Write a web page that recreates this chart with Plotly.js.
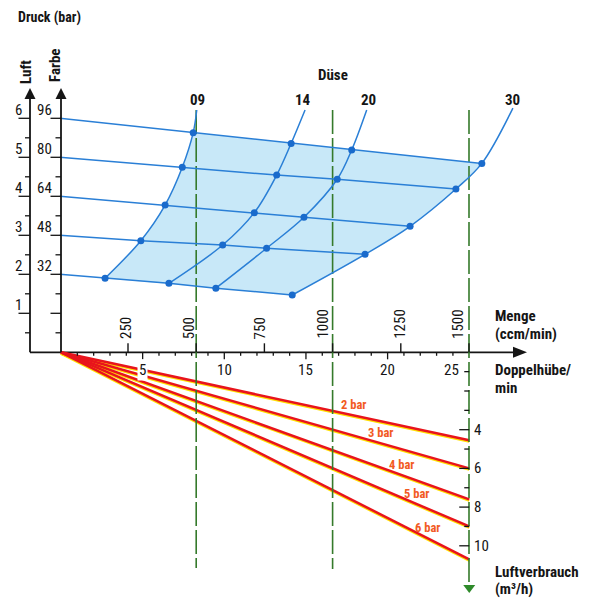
<!DOCTYPE html>
<html><head><meta charset="utf-8">
<script src="https://cdn.plot.ly/plotly-3.0.1.min.js"></script>
<style>html,body{margin:0;padding:0;background:#fff}#chart{width:593px;height:598px}</style>
</head><body><div id="chart"></div>
<script>
// ================= DATA =================
const farbeDruck = [32, 48, 64, 80, 96];          // Farbe-Druck (bar) scale labels
const luftDruck  = [1, 2, 3, 4, 5, 6];            // Luft-Druck (bar) scale labels
const FARBE_PER_LUFT = 16;                        // 6 bar Luft <-> 96 bar Farbe
const duesen = ['09', '14', '20', '30'];          // nozzle sizes
// nozzle points: Menge (ccm/min) and height on the Farbe-Druck scale (bar),
// one value per Farbe-Druck line (32, 48, 64, 80, 96)
const menge09 = [166, 297, 386, 449, 489];
const lage09  = [30.4, 45.8, 60.4, 75.9, 90.1];
const menge14 = [400, 597, 713, 795, 848];
const lage14  = [28.3, 44.0, 57.3, 72.7, 85.7];
const menge20 = [572, 758, 895, 1017, 1070];
const lage20  = [26.3, 42.7, 55.4, 71.0, 83.0];
const menge30 = [852, 1119, 1284, 1452, 1547];
const lage30  = [23.5, 40.2, 51.7, 67.0, 77.5];
// upper ends of the nozzle curves
const endeMenge = [502, 899, 1125, 1661];
const endeLage  = [99.4, 99.4, 99.4, 100.2];

const mengeTicks = [250, 500, 750, 1000, 1250, 1500];   // ccm/min
const hubTicks   = [5, 10, 15, 20, 25];                  // Doppelhuebe/min
const hubMax     = 25;
const markierMenge = [500, 1000, 1500];                  // green guide lines
const luftBar    = ['2 bar', '3 bar', '4 bar', '5 bar', '6 bar'];
const verbrauchBeiMax = [4.55, 6.0, 7.6, 9.0, 10.7];     // m3/h at 25 DH/min
const verbrauchTicks  = [4, 6, 8, 10];                   // labelled m3/h ticks
const verbrauchMaxTick = 10;

// ================= LAYOUT GEOMETRY =================
const W = 593, H = 598;
const OX = 61, OY = 352.3;          // origin in px
const PX_HUB = 16.33;               // px per DH/min
const PX_FARBE = 2.4375;            // px per bar (Farbe)
const PX_LV = 19.35;                // px per m3/h
const MX0 = 59.8, PX_MENGE = 0.2728;// Menge scale
const SHADOW = 1.3;
const LUFT_X = 30;
const AXIS_TOP = 98, ARROW_TIP = 88;
const XAXIS_END = 514, XARROW_TIP = 527;
const SMOOTH = 1;

const FONT = "'Liberation Sans Narrow','Arial Narrow','Roboto Condensed','DejaVu Sans Condensed',sans-serif";
const BLUE = '#2a7fd6', DOT = '#1a6bcc', FILL = '#c8e8f8', GREEN = '#357a2b',
      RED = '#e8141c', YEL = '#ffe000', LABRED = '#f25a22', INK = '#151515';

const px = x => x / W, py = y => 1 - y / H;
const pp = p => px(p[0]).toFixed(5) + ',' + py(p[1]).toFixed(5);

// ================= TRACES =================
const traces = [];
const base = {mode: 'lines', hoverinfo: 'skip', showlegend: false};

// horizontal axis line (main subplot)
traces.push(Object.assign({}, base, {x: [(LUFT_X - OX) / PX_HUB, (XAXIS_END - OX) / PX_HUB], y: [0, 0],
  xaxis: 'x', yaxis: 'y', line: {color: INK, width: 1.8}}));

// air consumption lines: yellow edge (shifted axis y2) under red (true axis y3)
verbrauchBeiMax.forEach(v => traces.push(Object.assign({}, base, {
  x: [0, hubMax], y: [0, v], xaxis: 'x', yaxis: 'y2', line: {color: YEL, width: 2.3}})));
verbrauchBeiMax.forEach(v => traces.push(Object.assign({}, base, {
  x: [0, hubMax], y: [0, v], xaxis: 'x', yaxis: 'y3', line: {color: RED, width: 2.5}})));

// green guide lines
const guideTop = (OY - 110) / PX_FARBE;
const guideBottomPx = [568, 569, 586];
markierMenge.forEach((m, i) => traces.push(Object.assign({}, base, {
  x: [m, m], y: [guideTop, -(guideBottomPx[i] - OY) / PX_FARBE], xaxis: 'x2', yaxis: 'y',
  line: {color: GREEN, width: 1.6, dash: '24px,4px'}})));

// Farbe-Druck lines
const cols = [[menge09, lage09], [menge14, lage14], [menge20, lage20], [menge30, lage30]];
farbeDruck.forEach((p, i) => traces.push(Object.assign({}, base, {
  x: [0].concat(cols.map(c => c[0][i])), y: [p].concat(cols.map(c => c[1][i])),
  xaxis: 'x2', yaxis: 'y', line: {color: BLUE, width: 1.5}})));

// nozzle curves
cols.forEach((c, j) => traces.push(Object.assign({}, base, {
  x: c[0].concat([endeMenge[j]]), y: c[1].concat([endeLage[j]]),
  xaxis: 'x2', yaxis: 'y', line: {color: BLUE, width: 1.5, shape: 'spline', smoothing: SMOOTH}})));

// nozzle points
traces.push({mode: 'markers', hoverinfo: 'skip', showlegend: false, xaxis: 'x2', yaxis: 'y',
  x: [].concat(...cols.map(c => c[0])), y: [].concat(...cols.map(c => c[1])),
  marker: {color: DOT, size: 7}});

// ================= SHAPES =================
const shapes = [];

// shaded field: same spline construction Plotly uses for the nozzle curves
function tangent(p0, p1, p2, s) {
  const d1x = p0[0] - p1[0], d1y = p0[1] - p1[1], d2x = p2[0] - p1[0], d2y = p2[1] - p1[1];
  const d1a = Math.pow(d1x * d1x + d1y * d1y, 0.25), d2a = Math.pow(d2x * d2x + d2y * d2y, 0.25);
  const nx = (d2a * d2a * d1x - d1a * d1a * d2x) * s, ny = (d2a * d2a * d1y - d1a * d1a * d2y) * s;
  const den1 = 3 * d2a * (d1a + d2a), den2 = 3 * d1a * (d1a + d2a);
  return [[p1[0] + (den1 && nx / den1), p1[1] + (den1 && ny / den1)],
          [p1[0] - (den2 && nx / den2), p1[1] - (den2 && ny / den2)]];
}
function splineSegs(pts, s) {
  const t = [];
  for (let i = 1; i < pts.length - 1; i++) t.push(tangent(pts[i - 1], pts[i], pts[i + 1], s));
  const segs = [{from: pts[0], ctrl: [t[0][0]], to: pts[1]}];
  for (let i = 2; i < pts.length - 1; i++) segs.push({from: pts[i - 1], ctrl: [t[i - 2][1], t[i - 1][0]], to: pts[i]});
  segs.push({from: pts[pts.length - 2], ctrl: [t[pts.length - 3][1]], to: pts[pts.length - 1]});
  return segs;
}
const toPx = (m, f) => [MX0 + m * PX_MENGE, OY - f * PX_FARBE];
const curvePx = j => cols[j][0].concat([endeMenge[j]]).map((m, i) => toPx(m, cols[j][1].concat([endeLage[j]])[i]));
const nRows = farbeDruck.length;
const segA = splineSegs(curvePx(0), SMOOTH).slice(0, nRows - 1);
const segB = splineSegs(curvePx(3), SMOOTH).slice(0, nRows - 1);
let fillPath = 'M' + pp(segA[0].from);
segA.forEach(s => { fillPath += (s.ctrl.length === 1 ? 'Q' : 'C') + s.ctrl.map(pp).join(' ') + ' ' + pp(s.to); });
fillPath += 'L' + pp(segB[segB.length - 1].to);
segB.slice().reverse().forEach(s => {
  fillPath += (s.ctrl.length === 1 ? 'Q' : 'C') + s.ctrl.slice().reverse().map(pp).join(' ') + ' ' + pp(s.from);
});
fillPath += 'Z';
shapes.push({type: 'path', xref: 'paper', yref: 'paper', layer: 'below', path: fillPath,
  fillcolor: FILL, line: {width: 0}});

const ln = (o, w) => Object.assign({type: 'line', line: {color: INK, width: w || 1.4}, layer: 'above'}, o);
// vertical Druck axes
[LUFT_X, OX].forEach(x => {
  shapes.push(ln({xref: 'paper', yref: 'paper', x0: px(x), x1: px(x), y0: py(OY), y1: py(AXIS_TOP)}, 1.8));
  shapes.push({type: 'path', xref: 'paper', yref: 'paper', layer: 'above', fillcolor: INK, line: {width: 0},
    path: `M${px(x)},${py(ARROW_TIP)} L${px(x - 5.5)},${py(AXIS_TOP + 1)} L${px(x + 5.5)},${py(AXIS_TOP + 1)} Z`});
});
// x axis arrow
shapes.push({type: 'path', xref: 'paper', yref: 'paper', layer: 'above', fillcolor: INK, line: {width: 0},
  path: `M${px(XARROW_TIP)},${py(OY)} L${px(XAXIS_END - 1)},${py(OY - 5.5)} L${px(XAXIS_END - 1)},${py(OY + 5.5)} Z`});
// green arrow
const gx = OX + hubMax * PX_HUB;
shapes.push({type: 'path', xref: 'paper', yref: 'paper', layer: 'above', fillcolor: '#2e8a2a', line: {width: 0},
  path: `M${px(gx)},${py(593)} L${px(gx - 6)},${py(585)} L${px(gx + 6)},${py(585)} Z`});

// Druck ticks every 0.5 bar Luft
for (let v = 0.5; v <= luftDruck[luftDruck.length - 1] + 1e-9; v += 0.5) {
  const major = Math.abs(v - Math.round(v)) < 1e-9;
  const yv = v * FARBE_PER_LUFT;
  shapes.push(ln({xref: 'paper', yref: 'y', x0: px(LUFT_X - (major ? 11.5 : 5)), x1: px(LUFT_X), y0: yv, y1: yv}, 1.3));
  shapes.push(ln({xref: 'paper', yref: 'y', x0: px(OX - (major ? 10.5 : 5.5)), x1: px(OX), y0: yv, y1: yv}, 1.3));
}
// Doppelhuebe ticks (below axis)
for (let h = 1; h < hubMax; h++) {
  const len = (h % 5 === 0) ? 7 : 3.5;
  shapes.push(ln({xref: 'x', yref: 'paper', x0: h, x1: h, y0: py(OY), y1: py(OY + len)}, 1.3));
}
// Menge ticks (above axis)
mengeTicks.forEach(m => shapes.push(ln({xref: 'x2', yref: 'paper', x0: m, x1: m, y0: py(OY), y1: py(OY - 9)}, 1.4)));
// Luftverbrauch ticks
for (let l = 1; l <= verbrauchMaxTick; l++) {
  const len = verbrauchTicks.includes(l) ? 10 : 5;
  shapes.push(ln({xref: 'x', yref: 'y3', x0: hubMax - len / PX_HUB, x1: hubMax, y0: l, y1: l}, 1.3));
}

// ================= ANNOTATIONS =================
const ann = [];
const txt = (o, size, bold, color) => Object.assign({showarrow: false,
  font: {family: FONT, size: size, color: color || INK, weight: bold ? 'bold' : 'normal'}}, o);
const P = (x, y) => ({xref: 'paper', yref: 'paper', x: px(x), y: py(y)});

ann.push(txt(Object.assign(P(16, 18), {text: 'Druck (bar)', xanchor: 'left', yanchor: 'middle'}), 14, true));
ann.push(txt(Object.assign(P(26, 86), {text: 'Luft', textangle: -90, xanchor: 'center', yanchor: 'bottom'}), 15, true));
ann.push(txt(Object.assign(P(55, 84), {text: 'Farbe', textangle: -90, xanchor: 'center', yanchor: 'bottom'}), 15, true));
luftDruck.forEach(v => ann.push(txt({xref: 'paper', yref: 'y', x: px(18), y: v * FARBE_PER_LUFT, yshift: 8.5,
  text: String(v), xanchor: 'center', yanchor: 'middle'}, 15)));
farbeDruck.forEach(v => ann.push(txt({xref: 'paper', yref: 'y', x: px(54), y: v, yshift: 8.5,
  text: String(v), xanchor: 'right', yanchor: 'middle'}, 15)));

ann.push(txt(Object.assign(P(333, 75.5), {text: 'Düse', xanchor: 'center', yanchor: 'middle'}), 15, true));
const duesenLabelX = [197.5, 303, 368, 512.5];
duesen.forEach((d, j) => ann.push(txt(Object.assign(P(duesenLabelX[j], 99.5),
  {text: d, xanchor: 'center', yanchor: 'middle'}), 15, true)));

const mengeShift = [-2, -7, -4, -10, -1, -11];
mengeTicks.forEach((m, i) => ann.push(txt({xref: 'x2', yref: 'paper', x: m, y: py(341), xshift: mengeShift[i],
  text: String(m), textangle: -90, xanchor: 'center', yanchor: 'bottom'}, 15)));
hubTicks.forEach(h => ann.push(txt({xref: 'x', yref: 'paper', x: h, y: py(370),
  xshift: h === hubMax ? -18 : 0, text: String(h), xanchor: 'center', yanchor: 'middle',
  bgcolor: h === 5 ? '#ffffff' : 'rgba(0,0,0,0)', borderpad: 1}, 15)));
verbrauchTicks.forEach(l => ann.push(txt({xref: 'x', yref: 'y3', x: hubMax, y: l, xshift: 3,
  text: String(l), xanchor: 'left', yanchor: 'middle'}, 15)));

ann.push(txt(Object.assign(P(493, 316), {text: 'Menge', xanchor: 'left', yanchor: 'middle'}), 15, true));
ann.push(txt(Object.assign(P(493, 334), {text: '(ccm/min)', xanchor: 'left', yanchor: 'middle'}), 15, true));
ann.push(txt(Object.assign(P(493, 370), {text: 'Doppelhübe/', xanchor: 'left', yanchor: 'middle'}), 15, true));
ann.push(txt(Object.assign(P(493, 388), {text: 'min', xanchor: 'left', yanchor: 'middle'}), 15, true));
ann.push(txt(Object.assign(P(493, 572), {text: 'Luftverbrauch', xanchor: 'left', yanchor: 'middle'}), 15, true));
ann.push(txt(Object.assign(P(493, 589), {text: '(m³/h)', xanchor: 'left', yanchor: 'middle'}), 15, true));

const labelHub = [17.9, 19.55, 20.85, 21.8, 22.45];
luftBar.forEach((t, i) => ann.push(txt({xref: 'x', yref: 'y3', x: labelHub[i],
  y: verbrauchBeiMax[i] * labelHub[i] / hubMax, yshift: 10.5, text: t,
  xanchor: 'center', yanchor: 'middle'}, 12.5, true, LABRED)));

// ================= AXES =================
const hidden = r => ({visible: false, range: r, fixedrange: true, showgrid: false, zeroline: false});
const layout = {
  width: W, height: H, margin: {l: 0, r: 0, t: 0, b: 0, pad: 0},
  paper_bgcolor: '#ffffff', plot_bgcolor: 'rgba(0,0,0,0)', hovermode: false, showlegend: false,
  xaxis: hidden([-OX / PX_HUB, (W - OX) / PX_HUB]),
  xaxis2: Object.assign(hidden([-MX0 / PX_MENGE, (W - MX0) / PX_MENGE]), {overlaying: 'x'}),
  yaxis: hidden([-(H - OY) / PX_FARBE, OY / PX_FARBE]),
  // y2: Luftverbrauch shifted down by SHADOW px (yellow edge), y3: Luftverbrauch (m3/h)
  yaxis2: Object.assign(hidden([(H - OY - SHADOW) / PX_LV, -(OY + SHADOW) / PX_LV]), {overlaying: 'y'}),
  yaxis3: Object.assign(hidden([(H - OY) / PX_LV, -OY / PX_LV]), {overlaying: 'y'}),
  shapes: shapes, annotations: ann
};
Plotly.newPlot('chart', traces, layout, {staticPlot: true, displayModeBar: false});
</script>
</body></html>
